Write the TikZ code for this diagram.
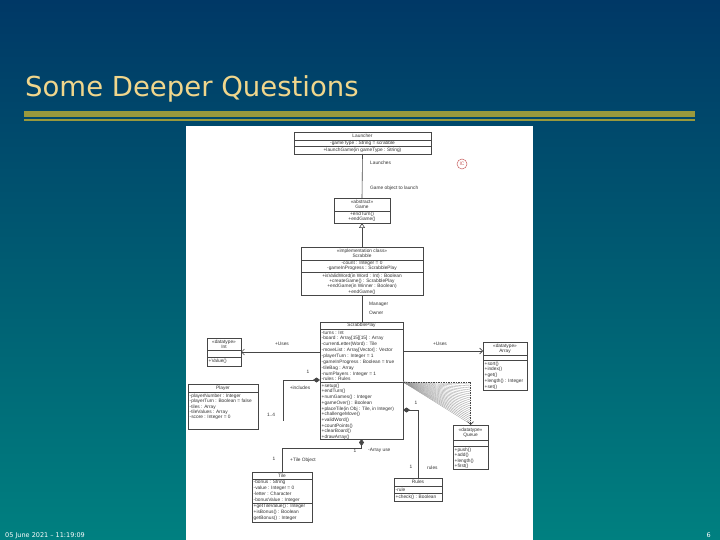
\documentclass[tikz,border=0pt]{standalone}
\usepackage{fontspec}
\setmainfont{Liberation Sans}
\newfontfamily\titlef{DejaVu Sans}
\usetikzlibrary{arrows.meta}
\definecolor{bgtop}{RGB}{0,56,102}
\definecolor{bgmid}{RGB}{0,92,114}
\definecolor{bgbot}{RGB}{0,128,128}
\definecolor{titlecol}{RGB}{240,214,140}
\definecolor{barcol}{RGB}{153,153,61}
\definecolor{inkline}{RGB}{70,70,70}
\definecolor{inktext}{RGB}{50,50,50}
\definecolor{fancol}{RGB}{150,150,150}
\definecolor{redmark}{RGB}{200,95,95}
\begin{document}
\begin{tikzpicture}[x=1pt,y=-1pt,
  umlbox/.style={draw=inkline, line width=0.6pt, fill=white, inner sep=0, outer sep=0, anchor=north west},
  divl/.style={draw=inkline, line width=0.5pt},
  conn/.style={draw=inkline, line width=0.6pt},
  ctxt/.style={inner sep=0, text=inktext, align=center, font=\fontsize{4.8}{5.4}\selectfont},
  ltxt/.style={inner sep=0, text=inktext, anchor=north west, align=left},
  lbl/.style={inner sep=0, text=inktext, font=\fontsize{4.8}{5}\selectfont},
  comp/.style={conn, {Diamond[length=7pt,width=5pt]}-},
  nav/.style={conn, -{Straight Barb[length=3pt,width=6pt]}},
  gen/.style={conn, -{Triangle[open,length=5pt,width=6pt]}},
  fanline/.style={draw=fancol, line width=0.3pt}
]
\useasboundingbox (0,0) rectangle (720,540);
% background
\shade[top color=bgtop, bottom color=bgbot, middle color=bgmid] (0,0) rectangle (720,540);
\node[font=\titlef\fontsize{27.5}{30}\selectfont, text=titlecol, anchor=base west, inner sep=0] (title) at (25,97) {Some Deeper Questions};
\fill[barcol] (24,111) rectangle (695,117);
\fill[barcol] (24,119) rectangle (695,121.5);
\fill[white] (186,126) rectangle (533,540);
\node[font=\titlef\fontsize{6.5}{7}\selectfont, text=white, anchor=west, inner sep=0] (date) at (5,535.5) {05 June 2021 – 11:19:09};
\node[font=\titlef\fontsize{6.5}{7}\selectfont, text=white, anchor=east, inner sep=0] (page) at (711,535.5) {6};

% Launcher
\node[umlbox, minimum width=137pt, minimum height=22pt] (launcher) at (294,132) {};
\draw[divl] (294,140) -- (431,140);
\draw[divl] (294,146) -- (431,146);
\node[ctxt] (lnT) at (362.5,136) {Launcher};
\node[ctxt] (lnA) at (362.5,143) {-gameType : String = scrabble};
\node[ctxt] (lnO) at (362.5,150) {+launchGame(in gameType : String)};

\node[draw=redmark, circle, line width=0.5pt, minimum size=10pt, inner sep=0, text=redmark, font=\fontsize{5}{5}\selectfont] (mark) at (462,164) {IC};

% Game
\node[umlbox, minimum width=56pt, minimum height=25pt] (game) at (334,198) {};
\draw[divl] (334,211) -- (390,211);
\node[ctxt] (gmT) at (362,204.5) {«abstract»\\Game};
\node[ctxt] (gmO) at (362,217) {+endTurn()\\+endGame()};

% Scrabble
\node[umlbox, minimum width=122pt, minimum height=48pt] (scrabble) at (301,247) {};
\draw[divl] (301,260) -- (423,260);
\draw[divl] (301,272) -- (423,272);
\node[ctxt] (scT) at (362,253.5) {«implementation class»\\Scrabble};
\node[ctxt] (scA) at (362,266) {-count : Integer = 0\\-gameInProgress : ScrabblePlay};
\node[ctxt, font=\fontsize{4.8}{5.2}\selectfont] (scO) at (362,284) {+isValidWord(in Word : Int) : Boolean\\+createGame() : ScrabblePlay\\+endGame(in Winner : Boolean)\\+endGame()};

% ScrabblePlay
\node[umlbox, minimum width=83pt, minimum height=117pt] (splay) at (320,322) {};
\draw[divl] (320,329) -- (403,329);
\draw[divl] (320,382) -- (403,382);
\node[ctxt] (spT) at (361.5,325.5) {ScrabblePlay};
\node[ltxt, font=\fontsize{4.8}{5.85}\selectfont] (spA) at (321.5,330.6) {-turns : Int\\-board : Array[15][15] : Array\\-currentLetter(Word) : Tile\\-moveList : Array[Vector] : Vector\\-playerTurn : Integer = 1\\-gameInProgress : Boolean = true\\-tileBag : Array\\-numPlayers : Integer = 1\\-rules : Rules};
\node[ltxt, font=\fontsize{4.8}{5.7}\selectfont] (spO) at (321.5,383.6) {+setup()\\+endTurn()\\+numGames() : Integer\\+gameOver() : Boolean\\+placeTile(in Obj : Tile, in Integer)\\+challengeMove()\\+validWord()\\+countPoints()\\+clearBoard()\\+drawArray()};

% Int
\node[umlbox, minimum width=34pt, minimum height=28pt] (int) at (207,338) {};
\draw[divl] (207,350) -- (241,350);
\draw[divl] (207,357) -- (241,357);
\node[ctxt] (inT) at (224,344) {«datatype»\\Int};
\node[ltxt] (inO) at (208.5,359.2) {\fontsize{4.8}{5}\selectfont +Value()};

% Array
\node[umlbox, minimum width=44pt, minimum height=48pt] (array) at (483,342) {};
\draw[divl] (483,355) -- (527,355);
\draw[divl] (483,360) -- (527,360);
\node[ctxt] (arT) at (505,348.5) {«datatype»\\Array};
\node[ltxt, font=\fontsize{4.8}{5.8}\selectfont] (arO) at (484.5,361.5) {+sort()\\+index()\\+get()\\+length() : Integer\\+set()};

% Player
\node[umlbox, minimum width=70pt, minimum height=45pt] (player) at (188,384) {};
\draw[divl] (188,392) -- (258,392);
\node[ctxt] (plT) at (223,388) {Player};
\node[ltxt, font=\fontsize{4.8}{5.3}\selectfont] (plA) at (189.5,393.8) {-playerNumber : Integer\\-playerTurn : Boolean = false\\-tiles : Array\\-tileValues : Array\\-score : Integer = 0};

% Tile
\node[umlbox, minimum width=60pt, minimum height=50pt] (tile) at (252,472) {};
\draw[divl] (252,479) -- (312,479);
\draw[divl] (252,503) -- (312,503);
\node[ctxt] (tlT) at (282,475.5) {Tile};
\node[ltxt, font=\fontsize{4.8}{5.8}\selectfont] (tlA) at (253.5,480.3) {-bonus : String\\-value : Integer = 0\\-letter : Character\\-bonusValue : Integer};
\node[ltxt, font=\fontsize{4.8}{6}\selectfont] (tlO) at (253.5,504.3) {+getTileValue() : Integer\\+isBonus() : Boolean\\getBonus() : Integer};

% Rules
\node[umlbox, minimum width=48pt, minimum height=23pt] (rules) at (394,478) {};
\draw[divl] (394,486) -- (442,486);
\draw[divl] (394,493) -- (442,493);
\node[ctxt] (ruT) at (418,482) {Rules};
\node[lbl, anchor=west] (ruA) at (395.5,489.5) {-rule};
\node[lbl, anchor=west] (ruO) at (395.5,497) {+check() : Boolean};

% Queue
\node[umlbox, minimum width=35pt, minimum height=44pt] (queue) at (453,425) {};
\draw[divl] (453,440) -- (488,440);
\draw[divl] (453,446) -- (488,446);
\node[ctxt] (quT) at (470.5,432.5) {«datatype»\\Queue};
\node[ltxt, font=\fontsize{4.8}{5.6}\selectfont] (quO) at (454.5,447.5) {+push()\\+add()\\+length()\\+first()};

% connectors
\draw[conn] (launcher.south) -- (game.north);
\node[lbl, anchor=west] (lLaunch) at (370,163) {Launches};
\node[lbl, anchor=west] (lGameObj) at (370,188) {Game object to launch};
\draw[gen] (scrabble.north) -- (game.south);
\draw[conn] (scrabble.south) -- (scrabble.south |- splay.north);
\node[lbl, anchor=west] (lMan) at (369,304) {Manager};
\node[lbl, anchor=west] (lOwn) at (369,313) {Owner};

\draw[nav] (splay.west |- int.east) -- (int.east);
\node[lbl] (lUses1) at (282,344) {+Uses};
\coordinate (arrL) at (483,351);
\draw[nav] (splay.east |- arrL) -- (arrL);
\node[lbl] (lUses2) at (440,344) {+Uses};

\coordinate (incA) at (320,380);
\coordinate (incEnd) at (283,421);
\draw[comp] (incA) -| (incEnd);
\node[lbl] (lInc) at (300,388) {+includes};
\node[lbl] (lInc1) at (308,372) {1};
\node[lbl] (lInc2) at (271,415) {1..4};

\draw[comp] (splay.south) -- ++(0,9) -| (tile.north);
\node[lbl] (lTile1) at (274,459) {1};
\node[lbl, anchor=west] (lTileObj) at (290,460) {+Tile Object};
\node[lbl] (lArr1) at (355,451) {1};
\node[lbl, anchor=west] (lArrUse) at (368,450) {-Array use};

\coordinate (rulA) at (403,410);
\draw[comp] (rulA) -| (rules.north);
\node[lbl] (lRul1) at (416,403) {1};
\node[lbl] (lRul2) at (411,467) {1};
\node[lbl, anchor=west] (lRules) at (427,468) {rules};

\coordinate (qA) at (403,382);
\foreach \yy in {384,386,...,424} \draw[fanline] (qA) -- (470.5,\yy);
\draw[conn, dashed, dash pattern=on 1.5pt off 1pt, -{Straight Barb[length=3pt,width=6pt]}] (qA) -| (queue.north);
\end{tikzpicture}
\end{document}
